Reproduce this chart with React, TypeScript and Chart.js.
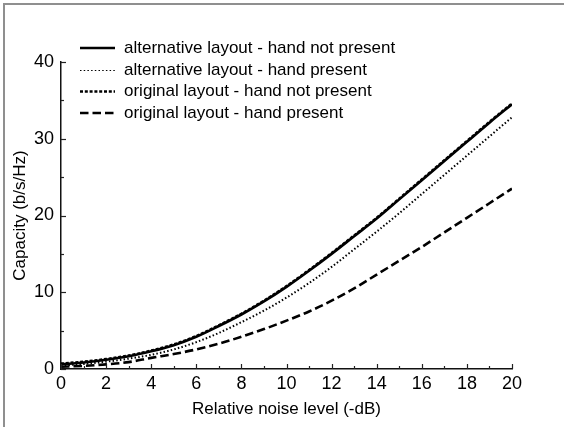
import React, { useEffect, useRef } from "react";
import { Chart, registerables } from "chart.js";

Chart.register(...registerables);

const noiseLevels = [0, 1, 2, 3, 4, 5, 6, 7, 8, 9, 10, 11, 12, 13, 14, 15, 16, 17, 18, 19, 20];
const altNoHand = [0.6, 0.85, 1.2, 1.65, 2.3, 3.1, 4.2, 5.6, 7.1, 8.8, 10.7, 12.8, 15.0, 17.3, 19.6, 22.1, 24.6, 27.1, 29.6, 32.1, 34.5];
const altHand = [0.45, 0.65, 0.95, 1.35, 1.85, 2.55, 3.5, 4.7, 6.1, 7.6, 9.3, 11.2, 13.3, 15.6, 17.9, 20.3, 22.8, 25.3, 27.8, 30.3, 32.8];
const origNoHand = [0.7, 0.95, 1.3, 1.75, 2.4, 3.2, 4.3, 5.7, 7.2, 8.9, 10.8, 12.9, 15.1, 17.4, 19.7, 22.2, 24.7, 27.2, 29.7, 32.2, 34.6];
const origHand = [0.3, 0.4, 0.6, 0.9, 1.45, 1.95, 2.55, 3.3, 4.2, 5.2, 6.3, 7.5, 8.9, 10.5, 12.3, 14.1, 15.9, 17.8, 19.7, 21.6, 23.5];
const seriesLabels = [
  "alternative layout - hand not present",
  "alternative layout - hand present",
  "original layout - hand not present",
  "original layout - hand present",
];
const xTickLabels = [0, 2, 4, 6, 8, 10, 12, 14, 16, 18, 20];
const yTickLabels = [0, 10, 20, 30, 40];

const FONT = "Arial, 'Liberation Sans', sans-serif";

export default function App() {
  const ref = useRef<HTMLCanvasElement>(null);
  useEffect(() => {
    document.body.style.margin = "0";
    const canvas = ref.current!;
    const styles = [
      { dash: [] as number[], width: 2.6, legendWidth: 2.6 },
      { dash: [1.5, 2.2], width: 2, legendWidth: 1.2 },
      { dash: [3, 1.8], width: 2.5, legendWidth: 2.5 },
      { dash: [8.5, 4], width: 2.6, legendWidth: 2.6 },
    ];
    const seriesData = [altNoHand, altHand, origNoHand, origHand];

    const decor = {
      id: "decor",
      beforeDraw(chart: any) {
        const ctx = chart.ctx;
        ctx.save();
        ctx.fillStyle = "#8f8f8f";
        ctx.fillRect(3, 3, 561, 2);
        ctx.fillRect(3, 3, 2, 424);
        ctx.restore();
      },
      afterDraw(chart: any) {
        const ctx = chart.ctx;
        const xs = chart.scales.x;
        const ys = chart.scales.y;
        const area = chart.chartArea;
        ctx.save();
        ctx.strokeStyle = "#222";
        ctx.lineWidth = 1.2;
        for (let v = 0; v <= 40; v += 5) {
          const py = Math.round(ys.getPixelForValue(v)) + 0.5;
          const len = v % 10 === 0 ? 5 : 3;
          ctx.beginPath();
          ctx.moveTo(area.left, py);
          ctx.lineTo(area.left + len, py);
          ctx.stroke();
        }
        for (let v = 0; v <= 20; v += 1) {
          const px = Math.round(xs.getPixelForValue(v)) + 0.5;
          const len = v % 2 === 0 ? 5 : 3;
          ctx.beginPath();
          ctx.moveTo(px, area.bottom);
          ctx.lineTo(px, area.bottom - len);
          ctx.stroke();
        }
        // legend
        const rows = [48, 70.5, 91.5, 113];
        ctx.font = `17px ${FONT}`;
        ctx.textBaseline = "middle";
        ctx.fillStyle = "#000";
        chart.data.datasets.forEach((ds: any, i: number) => {
          const y = rows[i];
          ctx.strokeStyle = "#000";
          ctx.lineWidth = styles[i].legendWidth;
          ctx.setLineDash(ds.borderDash || []);
          ctx.beginPath();
          ctx.moveTo(80, y);
          ctx.lineTo(115, y);
          ctx.stroke();
          ctx.setLineDash([]);
          ctx.fillText(ds.label, 124, y);
        });
        ctx.restore();
      },
    };

    const chart = new Chart(canvas, {
      type: "line",
      data: {
        labels: noiseLevels,
        datasets: seriesData.map((d, i) => ({
          label: seriesLabels[i],
          data: d.map((v, j) => ({ x: noiseLevels[j], y: v })),
          borderColor: "#000",
          borderWidth: styles[i].width,
          borderDash: styles[i].dash,
          pointRadius: 0,
          fill: false,
          cubicInterpolationMode: "monotone" as const,
        })),
      },
      options: {
        animation: false,
        responsive: false,
        devicePixelRatio: 1,
        layout: { padding: { top: 62, right: 52, left: 0, bottom: 0 } },
        plugins: { legend: { display: false }, tooltip: { enabled: false } },
        scales: {
          x: {
            type: "linear",
            min: 0,
            max: 20,
            afterFit: (s: any) => { s.height = 58; },
            afterBuildTicks: (s: any) => { s.ticks = xTickLabels.map((v) => ({ value: v })); },
            grid: { display: false, drawTicks: false },
            border: { display: true, color: "#111", width: 1.5 },
            ticks: { color: "#000", font: { family: FONT, size: 18 }, padding: 4, maxRotation: 0, autoSkip: false },
            title: { display: true, text: "Relative noise level (-dB)", color: "#000", font: { family: FONT, size: 17 }, padding: { top: 0, bottom: 7 } },
          },
          y: {
            type: "linear",
            min: 0,
            max: 40,
            afterFit: (s: any) => { s.width = 61; },
            afterBuildTicks: (s: any) => { s.ticks = yTickLabels.map((v) => ({ value: v })); },
            grid: { display: false, drawTicks: false },
            border: { display: true, color: "#111", width: 1.5 },
            ticks: { color: "#000", font: { family: FONT, size: 18 }, padding: 7 },
            title: { display: true, text: "Capacity (b/s/Hz)", color: "#000", font: { family: FONT, size: 17 }, padding: { top: 10, bottom: 0 } },
          },
        },
      },
      plugins: [decor],
    });
    return () => chart.destroy();
  }, []);
  return <canvas ref={ref} width={564} height={427} style={{ display: "block" }} />;
}
